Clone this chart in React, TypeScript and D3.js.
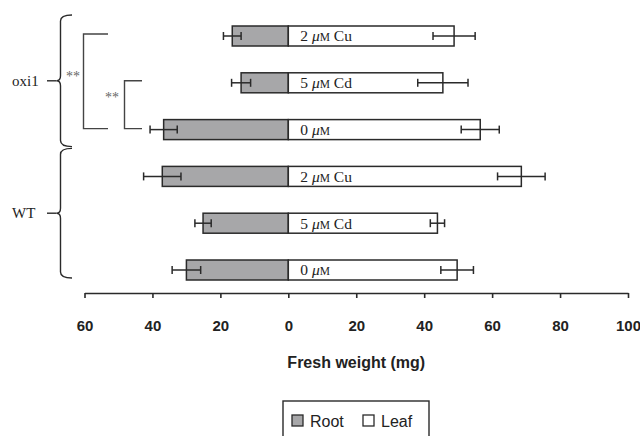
import * as React from 'react';
import { useRef, useEffect } from 'react';
import * as d3 from 'd3';

// rows top to bottom
const genotypes = ['oxi1', 'oxi1', 'oxi1', 'WT', 'WT', 'WT'];
const doses = ['2', '5', '0', '2', '5', '0'];
const metals = ['Cu', 'Cd', '', 'Cu', 'Cd', ''];
const rootMean = [16.5, 13.9, 36.7, 37.1, 25.1, 30.0];
const rootErr = [2.6, 2.8, 4.0, 5.5, 2.4, 4.2];
const leafMean = [48.8, 45.5, 56.5, 68.6, 43.9, 49.7];
const leafErr = [6.2, 7.4, 5.6, 7.0, 2.1, 4.8];
const xTicks = [-60, -40, -20, 0, 20, 40, 60, 80, 100];
const legendItems = ['Root', 'Leaf'];

const W = 640;
const H = 436;
const ROOT_FILL = '#a7a7a9';
const INK = '#2a2a2a';
const serif = '"Liberation Serif", "Times New Roman", serif';
const sans = '"Liberation Sans", Arial, sans-serif';

export default function App() {
  const axisRef = useRef<SVGGElement>(null);

  const x = d3.scaleLinear().domain([-60, 100]).range([84.5, 628]);
  const rows = d3.range(genotypes.length);
  const y = d3.scalePoint<number>().domain(rows).range([36, 270]);
  const barH = 20;
  const axisY = 293;

  useEffect(() => {
    if (!axisRef.current) return;
    const g = d3.select(axisRef.current);
    g.selectAll('*').remove();
    g.call(
      d3.axisBottom(x)
        .tickValues(xTicks)
        .tickSize(5)
        .tickSizeOuter(0)
        .tickPadding(22)
        .tickFormat((d) => String(Math.abs(d as number)))
    );
    g.select('.domain').attr('stroke', INK).attr('stroke-width', 1.6);
    g.selectAll('.tick line').attr('stroke', INK).attr('stroke-width', 1.6);
    g.selectAll('.tick text')
      .attr('fill', '#222')
      .style('font', `bold 15px ${sans}`);
  }, []);

  // group braces
  const groupNames = Array.from(new Set(genotypes));
  const braces = groupNames.map((name, gi) => {
    const idx = rows.filter((i) => genotypes[i] === name);
    const top = gi === 0 ? y(idx[0])! - 21 : y(idx[0])! - 28;
    const bot = gi === 0 ? y(idx[idx.length - 1])! + 17 : y(idx[idx.length - 1])! + 8;
    return { name, top, bot, mid: (top + bot) / 2 };
  });
  const bx = 60.5;
  const bracePath = (t: number, b: number, m: number) =>
    `M72,${t} Q${bx},${t} ${bx},${t + 6} L${bx},${m - 5} Q${bx},${m} ${bx - 4},${m} Q${bx},${m} ${bx},${m + 5} L${bx},${b - 6} Q${bx},${b} 72,${b}`;

  // significance brackets (row pairs)
  const sig = [
    { from: 0, to: 2, vx: 83.5, hx: 108, sx: 73, sy: 81 },
    { from: 1, to: 2, vx: 124.5, hx: 142, sx: 112, sy: 102 },
  ];

  return (
    <svg width={W} height={H} style={{ position: 'absolute', left: 0, top: 0, background: '#fff' }}>
      {/* braces */}
      {braces.map((b) => (
        <g key={b.name}>
          <path d={bracePath(b.top, b.bot, b.mid)} fill="none" stroke={INK} strokeWidth={1.4} />
          <line x1={47} x2={bx - 4} y1={b.mid} y2={b.mid} stroke={INK} strokeWidth={1.4} />
          <text x={12} y={b.mid} dy="0.33em" fontFamily={serif} fontSize={15} fill="#222">{b.name}</text>
        </g>
      ))}

      {/* significance */}
      {sig.map((s, i) => {
        const y1 = y(s.from)! - 2;
        const y2 = y(s.to)! - 1;
        return (
          <g key={i}>
            <path d={`M${s.hx},${y1} H${s.vx} V${y2} H${s.hx}`} fill="none" stroke="#444" strokeWidth={1.4} />
            <text x={s.sx} y={s.sy} textAnchor="middle" fontFamily={serif} fontSize={14} fill="#666">**</text>
          </g>
        );
      })}

      {/* bars */}
      {rows.map((i) => {
        const cy = y(i)!;
        const r0 = x(-rootMean[i]);
        const l1 = x(leafMean[i]);
        return (
          <g key={i}>
            <rect x={r0} y={cy - barH / 2} width={x(0) - r0} height={barH} fill={ROOT_FILL} stroke={INK} strokeWidth={1.5} />
            <rect x={x(0)} y={cy - barH / 2} width={l1 - x(0)} height={barH} fill="#fff" stroke={INK} strokeWidth={1.5} />
            <text x={x(0) + 12} y={cy} dy="0.35em" fontFamily={serif} fontSize={15.5} fill="#222">
              {doses[i]}{' '}
              <tspan fontStyle="italic">μ</tspan>
              <tspan fontSize={11.5}>M</tspan>
              {metals[i] ? ` ${metals[i]}` : ''}
            </text>
            {/* error bars */}
            {[
              [-rootMean[i] - rootErr[i], -rootMean[i] + rootErr[i]],
              [leafMean[i] - leafErr[i], leafMean[i] + leafErr[i]],
            ].map(([a, b], k) => (
              <g key={k} stroke={INK} strokeWidth={1.5}>
                <line x1={x(a)} x2={x(b)} y1={cy} y2={cy} />
                <line x1={x(a)} x2={x(a)} y1={cy - 4} y2={cy + 4} />
                <line x1={x(b)} x2={x(b)} y1={cy - 4} y2={cy + 4} />
              </g>
            ))}
          </g>
        );
      })}

      {/* x axis */}
      <g ref={axisRef} transform={`translate(0,${axisY})`} />
      <text x={(x(-60) + x(100)) / 2} y={368} textAnchor="middle" fontFamily={sans} fontWeight="bold" fontSize={16} fill="#222">
        Fresh weight (mg)
      </text>

      {/* legend */}
      <rect x={283} y={401} width={146} height={50} fill="#fff" stroke={INK} strokeWidth={1.4} />
      {legendItems.map((name, i) => {
        const lx = 292 + i * 71;
        return (
          <g key={name}>
            <rect x={lx} y={415} width={11} height={11} fill={i === 0 ? ROOT_FILL : '#fff'} stroke={INK} strokeWidth={1.3} />
            <text x={lx + 18} y={427} fontFamily={sans} fontSize={16} fill="#222">{name}</text>
          </g>
        );
      })}
    </svg>
  );
}
